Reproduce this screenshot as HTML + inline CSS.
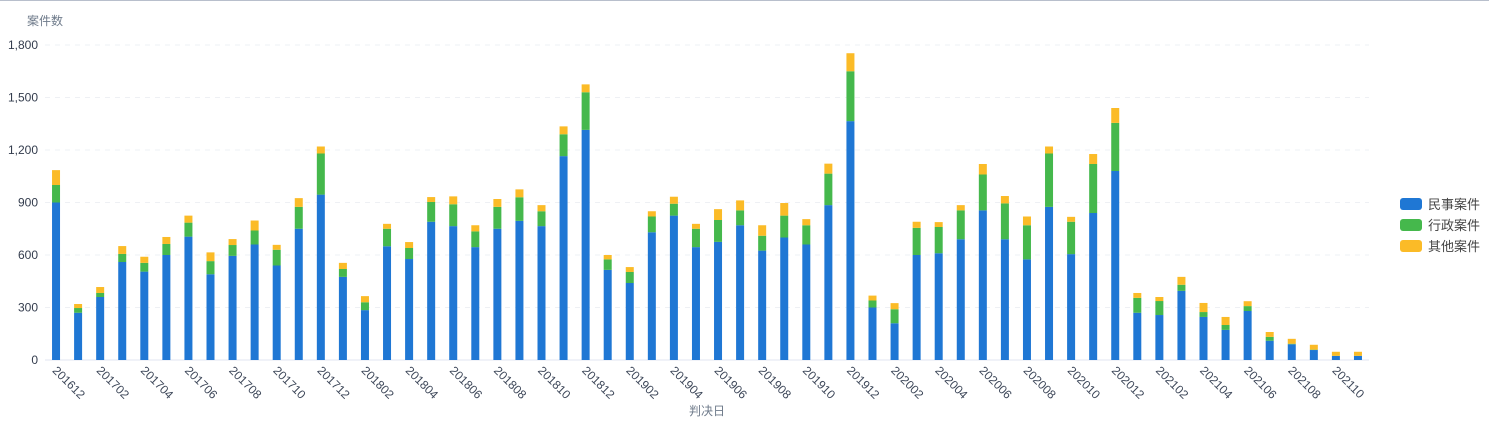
<!DOCTYPE html>
<html><head><meta charset="utf-8">
<style>
html,body{margin:0;padding:0;background:#fff;}
body{width:1489px;height:431px;overflow:hidden;font-family:"Liberation Sans","Noto Sans CJK SC",sans-serif;}
svg text{font-family:"Liberation Sans","Noto Sans CJK SC",sans-serif;}
</style></head>
<body>
<svg id="chart" width="1489" height="431" xmlns="http://www.w3.org/2000/svg">
<line x1="0" y1="0.5" x2="1489" y2="0.5" stroke="#b8bfcc" stroke-width="1"/>
<text x="27" y="25" font-size="12" fill="#6e7a8a">案件数</text>
<text x="707" y="415" font-size="12" fill="#6e7a8a" text-anchor="middle">判决日</text>
<g id="grid"></g><g id="bars"></g><g id="xlabels"></g>
<g>
<g><rect x="1400" y="198" width="22" height="12" rx="3" fill="#1f77d4"/><text x="1428" y="209" font-size="13" fill="#444">民事案件</text></g>
<g><rect x="1400" y="219" width="22" height="12" rx="3" fill="#45b84c"/><text x="1428" y="230" font-size="13" fill="#444">行政案件</text></g>
<g><rect x="1400" y="240" width="22" height="12" rx="3" fill="#fbbb27"/><text x="1428" y="251" font-size="13" fill="#444">其他案件</text></g>
</g>
</svg>
<script>
const categories = ["201612","201701","201702","201703","201704","201705","201706","201707","201708","201709","201710","201711","201712","201801","201802","201803","201804","201805","201806","201807","201808","201809","201810","201811","201812","201901","201902","201903","201904","201905","201906","201907","201908","201909","201910","201911","201912","202001","202002","202003","202004","202005","202006","202007","202008","202009","202010","202011","202012","202101","202102","202103","202104","202105","202106","202107","202108","202109","202110","202111"];
const civil = [900,270,360,560,505,600,705,490,595,660,540,750,945,475,285,650,577,790,765,645,750,795,765,1165,1315,515,440,730,825,645,675,770,625,700,660,885,1365,300,210,600,610,690,855,690,575,875,605,840,1080,270,257,395,246,172,280,110,90,57,23,23];
const admin = [100,27,23,46,50,63,80,75,62,80,90,125,235,45,45,100,63,113,125,90,125,135,85,125,215,60,63,90,68,105,125,85,85,125,110,180,285,40,80,155,150,165,205,205,195,305,185,280,275,85,80,35,28,28,28,22,3,2,1,1];
const other = [85,23,34,45,35,40,40,50,34,57,28,50,40,35,35,28,34,28,45,35,45,45,35,45,45,25,28,30,40,28,62,57,60,72,35,57,103,28,35,35,28,30,60,42,50,40,28,57,85,28,23,45,52,46,28,28,28,28,23,23];
const yTicks = [0,300,600,900,1200,1500,1800];
const yTickLabels = ["0","300","600","900","1,200","1,500","1,800"];

const NS="http://www.w3.org/2000/svg";
const X0=45, X1=1369, Y0=360, Y1=45, YMAX=1800;
const band=(X1-X0)/categories.length;
const xC=i=>X0+band*(i+0.5);
const yS=v=>Y0-(v/YMAX)*(Y0-Y1);
function mk(tag,attrs,parent){const e=document.createElementNS(NS,tag);for(const k in attrs)e.setAttribute(k,attrs[k]);parent.appendChild(e);return e;}
const grid=document.getElementById('grid');
yTicks.forEach((t,i)=>{
  const y=yS(t);
  const l=mk('line',{x1:X0,x2:X1,y1:y,y2:y,stroke:t===0?'#e0e6f1':'#eef0f4','stroke-dasharray':t===0?'':'5,5'},grid);
  
  
  const tx=mk('text',{x:38,y:y+4,'text-anchor':'end','font-size':12,fill:'#333c4d'},grid);
  tx.textContent=yTickLabels[i];
  
  
});
const bars=document.getElementById('bars');
const W=8;
categories.forEach((c,i)=>{
  const x=xC(i)-W/2;
  let base=0;
  [[civil,'#1f77d4','civil'],[admin,'#45b84c','admin'],[other,'#fbbb27','other']].forEach(([arr,col,nm])=>{
    const v=arr[i];
    const r=mk('rect',{x:x,y:yS(base+v),width:W,height:Math.max(0,yS(base)-yS(base+v)),fill:col},bars);
    
    
    base+=v;
  });
});
const xl=document.getElementById('xlabels');
categories.forEach((c,i)=>{
  if(i%2) return;
  const x=xC(i)-2, y=369;
  const t=mk('text',{x:x,y:y,'font-size':12,fill:'#3c4658',transform:`rotate(45 ${x} ${y})`,'dominant-baseline':'middle'},xl);
  t.textContent=c;
  
  
});
</script>
</body></html>
